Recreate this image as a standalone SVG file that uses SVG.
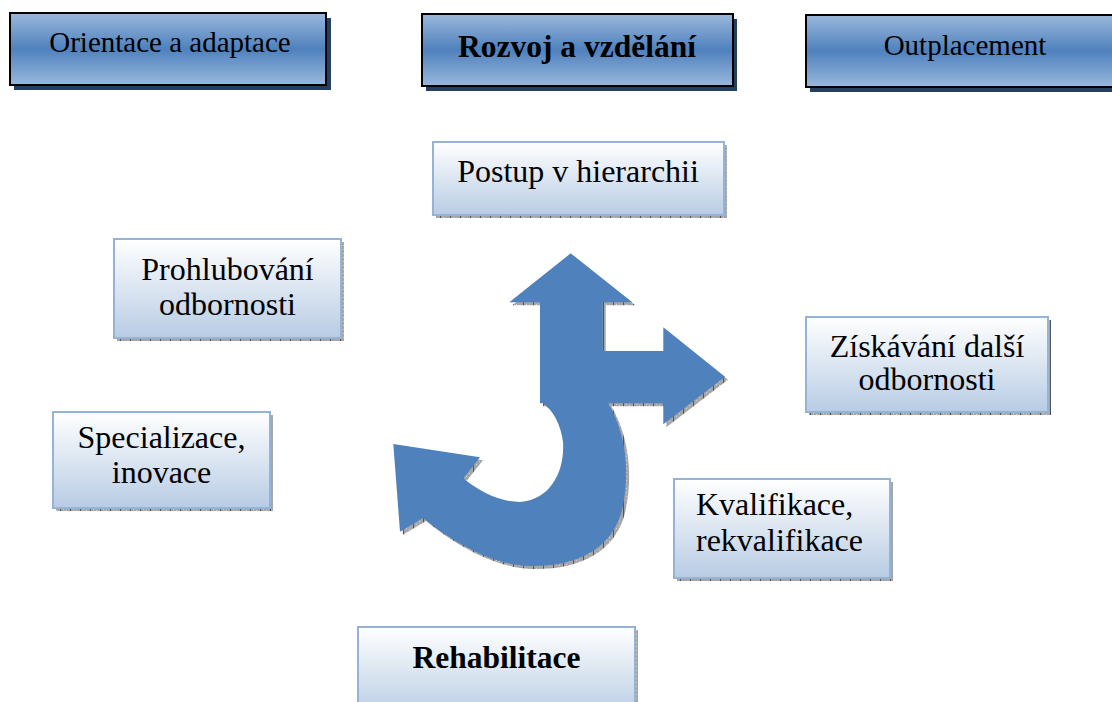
<svg xmlns="http://www.w3.org/2000/svg" width="1112" height="702" viewBox="0 0 1112 702">
  <style>
    .head rect.face { fill: url(#gHead); stroke: #000; stroke-width: 2; }
    .head rect.shade { fill: #243f60; }
    .item rect.face { fill: url(#gItem); stroke: #95b3d7; stroke-width: 2; }
    .item rect.shade { fill: url(#hatch); }
    text { font-family: "Liberation Serif", "Times New Roman", serif; fill: #000; text-anchor: middle; }
    .t29 { font-size: 29px; }
    .t32 { font-size: 32px; }
    .b { font-weight: bold; font-size: 31.5px; }
    .left { text-anchor: start; }
  </style>
  <defs>
    <linearGradient id="gHead" x1="0" y1="0" x2="0" y2="1">
      <stop offset="0" stop-color="#9ab8dc"/>
      <stop offset="0.5" stop-color="#4f81bd"/>
      <stop offset="1" stop-color="#9ab8dc"/>
    </linearGradient>
    <linearGradient id="gItem" x1="0" y1="0" x2="0" y2="1">
      <stop offset="0" stop-color="#ffffff"/>
      <stop offset="1" stop-color="#b8cce4"/>
    </linearGradient>
    <pattern id="hatch" width="10" height="4" patternUnits="userSpaceOnUse">
      <rect width="10" height="4" fill="#a6a6a6"/>
      <rect x="0" y="0" width="1" height="4" fill="#555"/>
      <rect x="3" y="1" width="1" height="1" fill="#d0d0d0"/>
      <rect x="6" y="2" width="1" height="1" fill="#d0d0d0"/>
    </pattern>
    <path id="branchArrow" d="M570.7,253.3 L632.3,302.3 L602.7,302.3 L602.7,351 L663.3,351 L663.3,327.3 L725,376.7 L663.3,424.3 L663.3,403.3 L608.3,403.3 C625,432 631,470 622,510 C612,550 575,567 530,566 C490,565 450,540 423,518 L400,531.7 L393.3,444 L480,457.3 L463.3,478.3 C480,492 500,502 520,502 C550,500 565,472 563,442 C561,425 553,410 543,403.3 L540,403.3 L540,302.3 L509.3,302.3 Z"/>
  </defs>

  <!-- header boxes -->
  <g id="orientace" class="head">
    <rect class="shade" x="14" y="18" width="317" height="72"/>
    <rect class="face" x="10" y="13" width="316" height="72"/>
    <text class="t29" x="170" y="52">Orientace a adaptace</text>
  </g>
  <g id="rozvoj" class="head">
    <rect class="shade" x="426" y="19" width="311" height="72"/>
    <rect class="face" x="422" y="14" width="311" height="72"/>
    <text class="b" x="577" y="57">Rozvoj a vzdělání</text>
  </g>
  <g id="outplacement" class="head">
    <rect class="shade" x="810" y="20" width="320" height="72"/>
    <rect class="face" x="806" y="15" width="320" height="72"/>
    <text class="t29" x="965" y="55">Outplacement</text>
  </g>

  <!-- branching arrow with hatched drop shadow -->
  <g id="connectors">
    <use href="#branchArrow" transform="translate(3,3)" fill="url(#hatch)"/>
    <use href="#branchArrow" fill="#4f81bd"/>
  </g>

  <!-- branch boxes -->
  <g id="postup" class="item">
    <rect class="shade" x="436" y="145" width="291" height="73"/>
    <rect class="face" x="433" y="142" width="291" height="73"/>
    <text class="t32" x="578" y="182">Postup v hierarchii</text>
  </g>
  <g id="prohlubovani" class="item">
    <rect class="shade" x="117" y="242" width="227" height="99"/>
    <rect class="face" x="114" y="239" width="227" height="99"/>
    <text class="t32" x="227.5" y="280">Prohlubování</text>
    <text class="t32" x="227.5" y="315">odbornosti</text>
  </g>
  <g id="ziskavani" class="item">
    <rect class="shade" x="809" y="320" width="242" height="95"/>
    <rect class="face" x="806" y="317" width="242" height="95"/>
    <text class="t32" x="927" y="357">Získávání další</text>
    <text class="t32" x="927" y="390">odbornosti</text>
  </g>
  <g id="specializace" class="item">
    <rect class="shade" x="56" y="415" width="217" height="96"/>
    <rect class="face" x="53" y="412" width="217" height="96"/>
    <text class="t32" x="161.5" y="448">Specializace,</text>
    <text class="t32" x="161.5" y="483">inovace</text>
  </g>
  <g id="kvalifikace" class="item">
    <rect class="shade" x="677" y="482" width="216" height="99"/>
    <rect class="face" x="674" y="479" width="216" height="99"/>
    <text class="t32 left" x="696" y="515">Kvalifikace,</text>
    <text class="t32 left" x="696" y="551">rekvalifikace</text>
  </g>
  <g id="rehabilitace" class="item">
    <rect class="shade" x="361" y="630" width="277" height="90"/>
    <rect class="face" x="358" y="627" width="277" height="90"/>
    <text class="b" x="496.5" y="668">Rehabilitace</text>
  </g>
</svg>
